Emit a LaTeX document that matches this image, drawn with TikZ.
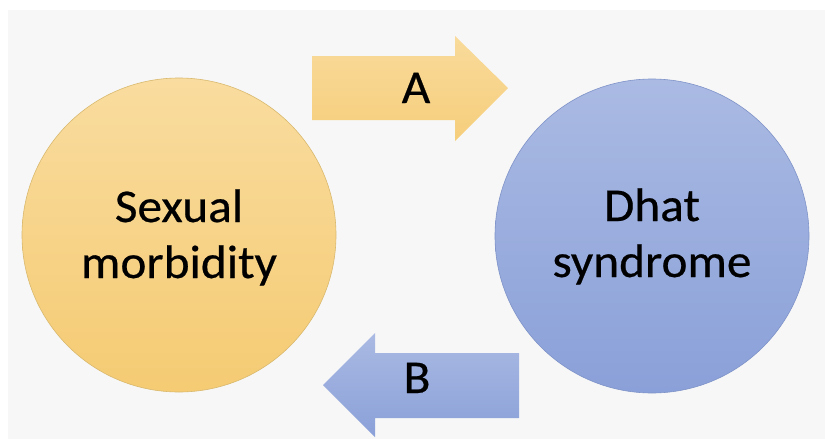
\documentclass[tikz,border=0pt]{standalone}
\usepackage{fontspec}
\setmainfont{Carlito}[FakeStretch=1.05,FakeBold=0.5]
\definecolor{bggray}{HTML}{F7F7F7}
\definecolor{ytop}{HTML}{F9DC9F}
\definecolor{ybot}{HTML}{F5CB73}
\definecolor{btop}{HTML}{AABAE3}
\definecolor{bbot}{HTML}{8AA0D8}
\definecolor{yedge}{HTML}{D9B96E}
\definecolor{bedge}{HTML}{7F93C8}
\begin{document}
\begin{tikzpicture}[x=1pt,y=-1pt,
  bigfont/.style={font=\fontsize{47}{56}\selectfont},
  ycirc/.style={circle,minimum size=314pt,inner sep=0pt,draw=yedge,line width=0.6pt,top color=ytop,bottom color=ybot},
  bcirc/.style={circle,minimum size=314pt,inner sep=0pt,draw=bedge,line width=0.6pt,top color=btop,bottom color=bbot},
  label/.style={bigfont,align=center,anchor=base,inner sep=0pt,text=black}]
\useasboundingbox (0,0) rectangle (825,439);
\fill[white] (0,0) rectangle (825,439);
\fill[bggray] (8,10) rectangle (825,439);
% circles
\node[ycirc] (sm) at (179,235) {};
\node[bcirc] (ds) at (652,236) {};
\node[label] (smt) at (179,278) {Sexual\\morbidity};
\node[label] (dst) at (652,277) {Dhat\\syndrome};
% arrow A
\path[top color=ytop!90!ybot,bottom color=ybot!80!ytop]
  (312,56) -- (455,56) -- (455,36) -- (508,88) -- (455,141) -- (455,120) -- (312,120) -- cycle;
\node[label] (la) at (416,103) {A};
% arrow B
\path[top color=btop,bottom color=bbot]
  (519,353) -- (375,353) -- (375,333) -- (323,385) -- (375,437) -- (375,418) -- (519,418) -- cycle;
\node[label] (lb) at (417,393) {B};
\end{tikzpicture}
\end{document}
